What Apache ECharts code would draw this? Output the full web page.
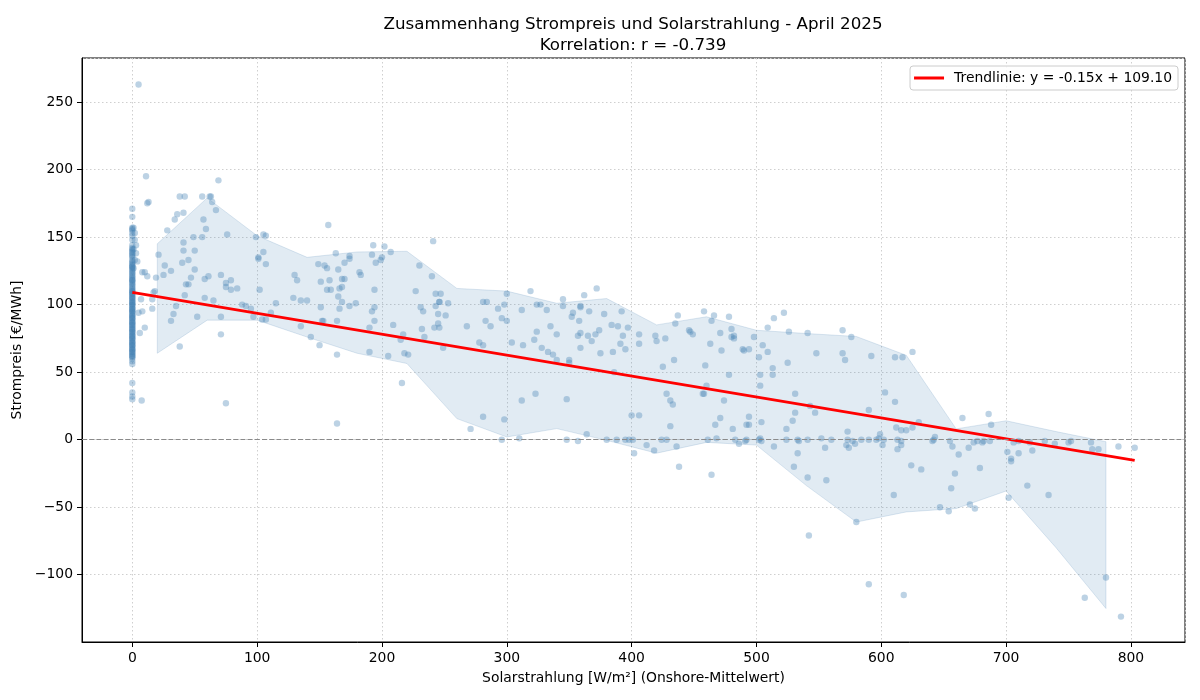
<!DOCTYPE html>
<html>
<head>
<meta charset="utf-8">
<script src="https://cdn.jsdelivr.net/npm/echarts@6/dist/echarts.min.js"></script>
<style>
  body { margin: 0; background: #fff; }
  #chart { width: 1200px; height: 700px; }
</style>
</head>
<body>
<div id="chart"></div>
<script>
// Strompreis bei Solarstrahlung 0 (Nachtstunden)
const nightPrices = [
  171, 165, 157, 156, 155, 153, 151, 148, 144, 142, 141, 140, 139, 138, 137, 136, 135, 133,
  132, 131, 130, 129, 128, 127, 126, 125, 124, 123, 122, 121, 120, 119, 118, 117, 116, 115,
  114, 113, 112, 111, 110, 109, 108, 107, 106, 105, 104, 103, 102, 101, 100, 99, 98, 97, 96,
  95, 94, 93, 92, 91, 90, 89, 88, 87, 86, 85, 84, 83, 82, 81, 80, 79, 78, 77, 76, 75, 74, 73,
  72, 71, 70, 69, 68, 67, 66, 65, 64, 63, 62, 61, 60, 58, 56, 42, 35, 32, 30,
  110, 105, 100, 95, 90, 85, 80, 75, 70, 65, 102, 97, 92, 87, 82, 77, 72, 67, 62, 108, 118, 128
];

// [Solarstrahlung W/m², Strompreis €/MWh]
const dayPoints = [
  [1, 157], [2, 153], [2, 148], [3, 144], [1, 141], [3, 138], [2, 133], [1, 127],
  [5, 263], [11, 195], [12, 175], [13, 176],
  [38, 180], [42, 180], [36, 167], [41, 168], [34, 163], [28, 155], [21, 137], [41, 146], [41, 140],
  [50, 140], [49, 150], [56, 150], [57, 163], [59, 156], [56, 180], [62, 180], [63, 180], [64, 176],
  [67, 170], [69, 192], [76, 152], [99, 150], [105, 152], [107, 151], [105, 139], [101, 135],
  [157, 159], [163, 138], [174, 136], [193, 144], [202, 143], [207, 139], [241, 147], [192, 137], [200, 135],
  [7.5, 29], [4, 132], [8, 124], [10, 124], [12, 121], [19, 120], [25, 122], [26, 129], [31, 125],
  [40, 131], [45, 133], [43, 115], [45, 115], [47, 120], [50, 126], [58, 119], [61, 121], [71, 122],
  [75, 116], [75, 113], [79, 118], [79, 111], [84, 112], [17, 109], [18, 110], [7, 104], [16, 104],
  [42, 107], [58, 105], [65, 103], [35, 99], [16, 97], [5, 94], [8, 95], [88, 100], [91, 99], [95, 97],
  [97, 91], [102, 111], [101, 134], [107, 130], [111, 94], [115, 101], [104, 89], [107, 89], [33, 93],
  [31, 88], [10, 83], [6, 79], [52, 91], [71, 91], [38, 69], [71, 78], [75, 27], [130, 122], [132, 118],
  [129, 105], [135, 103], [140, 103], [149, 130], [154, 129], [156, 127], [158, 118], [151, 117],
  [156, 111], [159, 111], [166, 112], [168, 113], [165, 106], [165, 126], [170, 131], [174, 134],
  [168, 119], [170, 119], [168, 102], [174, 99], [179, 101], [182, 124], [183, 122], [151, 98], [166, 97],
  [135, 84], [143, 76], [150, 70], [164, 63], [152, 88], [153, 88], [164, 88], [164, 12],
  [195, 131], [199, 133], [192, 95], [194, 98], [194, 111], [194, 88], [190, 83], [190, 65], [205, 62],
  [209, 85], [215, 74], [217, 78], [218, 64], [221, 63], [216, 42], [227, 110], [230, 129], [231, 98],
  [233, 95], [232, 82], [234, 76], [240, 121], [243, 108], [247, 108], [243, 99], [246, 102], [246, 102],
  [245, 93], [245, 86], [242, 83], [246, 83], [251, 92], [253, 101], [249, 68], [268, 84], [278, 72],
  [281, 70], [271, 8], [281, 17], [281, 102], [284, 102], [283, 88], [287, 84], [293, 97], [296, 90],
  [300, 88], [298, 100], [300, 108], [298, 15], [296, 0], [310, 1], [304, 72], [312, 96], [313, 70],
  [319, 110], [322, 74], [324, 80], [323, 34], [312, 29], [324, 100], [327, 100], [328, 68], [332, 96],
  [333, 65], [335, 84], [337, 63], [340, 78], [340, 59], [345, 104], [345, 99], [350, 59], [350, 57],
  [348, 30], [348, 0], [352, 91], [353, 94], [357, 77], [359, 79], [359, 99], [359, 98], [358, 88],
  [359, 68], [362, 107], [357, -1], [364, 4], [365, 77], [368, 73], [366, 95], [372, 112], [371, 78],
  [374, 81], [375, 64], [378, 93], [380, 0], [388, 0], [384, 85], [385, 65], [386, 50], [389, 84],
  [392, 95], [393, 77], [391, 71], [395, 67], [397, 83], [395, 0], [398, 0], [401, 0], [400, 18],
  [406, 18], [402, -10], [406, 78], [406, 71],
  [437, 92], [435, 86], [458, 95], [466, 92], [464, 88], [478, 91], [480, 82], [471, 79], [482, 77],
  [480, 76], [482, 75], [446, 81], [447, 80], [449, 78], [419, 77], [420, 73], [427, 75], [425, 54],
  [434, 59], [463, 71], [472, 66], [489, 67], [490, 66], [494, 67], [498, 76], [505, 70], [502, 61],
  [503, 48], [503, 40], [509, 83], [509, 65], [514, 90], [522, 94], [513, 53], [513, 48], [525, 57],
  [526, 80], [541, 79], [548, 64], [569, 81], [576, 76], [569, 64], [571, 59], [592, 62], [611, 61],
  [617, 61], [625, 65], [603, 35], [611, 28], [590, 22], [428, 34], [431, 29], [433, 26], [457, 34],
  [458, 34], [460, 40], [474, 29], [459, 55], [478, 48], [431, 10], [467, 11], [471, 16], [481, 8],
  [494, 17], [494, 11], [492, 11], [504, 13], [503, 1], [531, 34], [531, 20], [529, 14], [524, 8],
  [543, 25], [547, 20], [612, 9], [616, 7], [620, 7], [625, 9], [630, 13], [573, 6], [599, 4],
  [424, 0], [428, 0], [461, 0], [468, 1], [483, 0], [491, -1], [492, 0], [502, 0], [504, -1], [524, 0],
  [533, 0], [534, -1], [541, 0], [552, 1], [560, 0], [573, 0], [577, -1], [584, 0], [590, 0], [596, 0],
  [598, 1], [602, 0], [613, 0], [616, -1],
  [412, -4], [418, -8], [436, -5], [486, -3], [514, -5], [533, -10], [555, -6], [572, -4], [574, -6],
  [579, -3], [601, -4], [613, -7], [616, -4],
  [438, -20], [464, -26], [530, -20], [541, -28], [556, -30], [580, -61], [542, -71], [590, -107],
  [618, -115], [610, -41], [624, -19], [632, -22],
  [665, 16], [686, 19], [688, 11], [642, 0], [643, 2], [641, -1], [655, -1], [657, -5], [662, -11],
  [670, -6], [674, -2], [677, -1], [681, -2], [682, -1], [687, -1], [701, -9], [704, -14], [706, -2],
  [710, -1], [710, -10], [719, -2], [721, -8], [731, -1], [739, -3], [750, -2], [752, -1], [768, -2],
  [769, -7], [774, -7], [790, -5], [803, -6],
  [659, -25], [656, -36], [679, -21], [647, -50], [654, -53], [671, -48], [675, -51], [704, -16],
  [702, -43], [717, -34], [734, -41], [763, -117], [780, -102], [792, -131]
];

// Streuband je 40-W/m²-Klasse
const bandX = [20, 60, 100, 140, 180, 220, 260, 300, 340, 380, 420, 460, 500, 540, 580, 620, 660, 700, 740, 780];
const bandUpper = [145, 179, 151, 135, 139, 139.5, 112, 110, 101, 104.5, 85, 91, 81, 78.6, 76.4, 62.5, 8, 14, 6, -1.5];
const bandLower = [64, 88.5, 88.5, 76, 64, 56.4, 15.6, 2, 8.2, -0.5, -10, -2, -4, -34, -61, -53.5, -51, -38, -80, -125];

// Trendlinie (Endpunkte)
const trendX = [0, 803];
const trendY = [109.1, -15.3];
const trendName = "Trendlinie: y = -0.15x + 109.10";

const FONT = "DejaVu Sans";
const minus = (v) => (v < 0 ? "\u2212" + Math.abs(v) : String(v));

const chart = echarts.init(document.getElementById("chart"));

const option = {
  animation: false,
  backgroundColor: "#fff",
  textStyle: { fontFamily: FONT },
  title: {
    text: "Zusammenhang Strompreis und Solarstrahlung - April 2025\nKorrelation: r = -0.739",
    left: 628,
    top: 9,
    textAlign: "center",
    textStyle: { fontFamily: FONT, fontSize: 16.7, fontWeight: "normal", color: "#000", lineHeight: 21 },
  },
  legend: {
    right: 22,
    top: 66,
    // roter Strich mit etwas Abstand zum Text
    data: [{ name: trendName, icon: "path://M0 0H30V3H0ZM35 0H35.01V3H35Z" }],
    itemWidth: 35,
    itemHeight: 3,
    padding: [4, 6, 4, 4],
    borderColor: "#cccccc",
    borderWidth: 1,
    borderRadius: 3,
    backgroundColor: "rgba(255,255,255,0.8)",
    textStyle: { fontFamily: FONT, fontSize: 13.9, color: "#000", lineHeight: 16 },
  },
  grid: {
    left: 82,
    right: 15,
    top: 58,
    bottom: 58,
    show: true,
    borderColor: "#000",
    borderWidth: 1,
    backgroundColor: "transparent",
  },
  xAxis: {
    type: "value",
    min: -40.3,
    max: 843.3,
    splitNumber: 9,
    name: "Solarstrahlung [W/m²] (Onshore-Mittelwert)",
    nameLocation: "middle",
    nameGap: 29,
    nameTextStyle: { fontFamily: FONT, fontSize: 13.9, color: "#000" },
    axisLine: { show: true, onZero: false, lineStyle: { color: "#000", width: 1 } },
    axisTick: { show: true, length: 5, lineStyle: { color: "#000" } },
    axisLabel: {
      margin: 9, fontFamily: FONT, fontSize: 13.9, color: "#000",
      showMinLabel: false, showMaxLabel: false, formatter: minus,
    },
    splitLine: { show: true, lineStyle: { color: "#cfcfcf", width: 1, type: [1.5, 2.5] } },
  },
  yAxis: {
    type: "value",
    min: -149.8,
    max: 282.6,
    splitNumber: 9,
    name: "Strompreis [€/MWh]",
    nameLocation: "middle",
    nameGap: 46,
    nameTextStyle: { fontFamily: FONT, fontSize: 13.9, color: "#000" },
    axisLine: { show: true, onZero: false, lineStyle: { color: "#000", width: 1 } },
    axisTick: { show: true, length: 5, lineStyle: { color: "#000" } },
    axisLabel: {
      margin: 9, fontFamily: FONT, fontSize: 13.9, color: "#000",
      showMinLabel: false, showMaxLabel: false, formatter: minus,
    },
    splitLine: { show: true, lineStyle: { color: "#cfcfcf", width: 1, type: [1.5, 2.5] } },
  },
  series: [
    {
      name: "Band",
      type: "custom",
      z: 1,
      silent: true,
      data: bandX.map((x, i) => [x, bandUpper[i]]),
      renderItem: function (params, api) {
        if (params.dataIndex !== 0) return null;
        const pts = [];
        bandX.forEach((x, i) => pts.push(api.coord([x, bandUpper[i]])));
        for (let i = bandX.length - 1; i >= 0; i--) pts.push(api.coord([bandX[i], bandLower[i]]));
        return {
          type: "polygon",
          shape: { points: pts },
          style: { fill: "rgba(70,130,180,0.16)", stroke: "rgba(70,130,180,0.18)", lineWidth: 1 },
        };
      },
    },
    {
      name: "Daten",
      type: "scatter",
      z: 2,
      symbolSize: 6.4,
      itemStyle: { color: "rgba(70,130,180,0.45)" },
      data: nightPrices.map((p) => [0, p]).concat(dayPoints),
      markLine: {
        silent: true,
        symbol: "none",
        label: { show: false },
        lineStyle: { color: "#8a8a8a", width: 1, type: [5, 2.2] },
        data: [{ yAxis: 0 }],
      },
    },
    {
      name: trendName,
      type: "line",
      z: 3,
      showSymbol: false,
      symbol: "none",
      color: "#ff0000",
      lineStyle: { color: "#ff0000", width: 2.8 },
      data: trendX.map((x, i) => [x, trendY[i]]),
    },
  ],
};

chart.setOption(option);
</script>
</body>
</html>
